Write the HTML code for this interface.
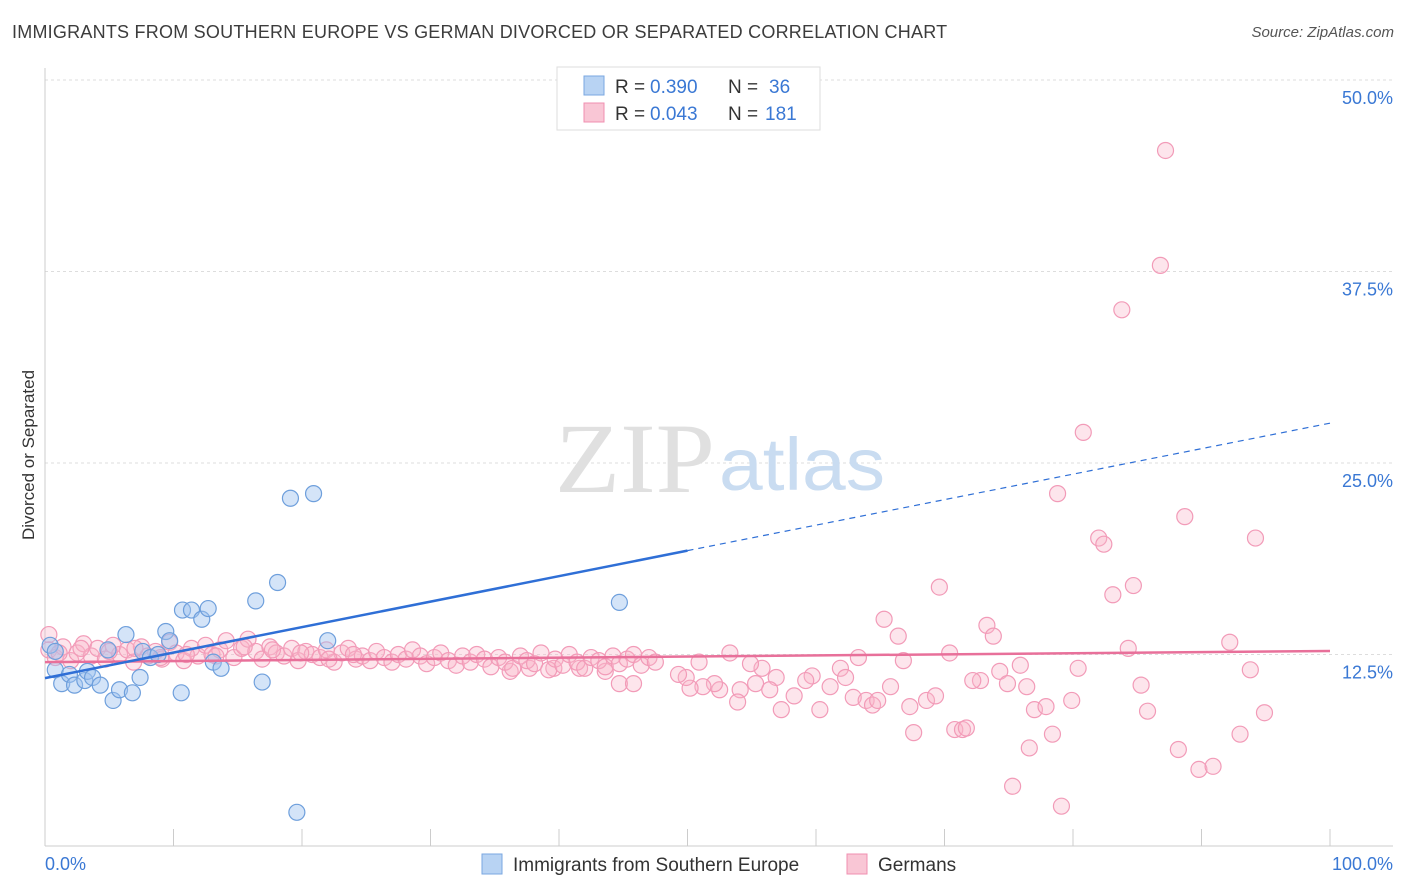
<!DOCTYPE html>
<html><head><meta charset="utf-8">
<style>
body{margin:0;background:#fff;font-family:"Liberation Sans",sans-serif;}
#wrap{position:relative;width:1406px;height:892px;overflow:hidden;}
.title{position:absolute;left:12px;top:22px;font-size:18px;color:#3c3c3c;letter-spacing:0.23px;}
.source{position:absolute;right:12px;top:24px;font-size:15px;color:#555;font-style:italic;}
</style></head><body>
<div id="wrap">
<div class="title">IMMIGRANTS FROM SOUTHERN EUROPE VS GERMAN DIVORCED OR SEPARATED CORRELATION CHART</div>
<div class="source">Source: ZipAtlas.com</div>
<svg id="svg" width="1406" height="892" style="position:absolute;left:0;top:0">
<text x="555" y="492" font-size="100" font-family="Liberation Serif,serif" fill="#e0e0e0" textLength="160" lengthAdjust="spacingAndGlyphs">ZIP</text>
<text x="719" y="490" font-size="74" fill="#c9dcf1" textLength="166" lengthAdjust="spacingAndGlyphs">atlas</text>
<text transform="translate(34,455) rotate(-90)" font-size="17" fill="#333" text-anchor="middle">Divorced or Separated</text>
<text x="45" y="870" font-size="18" fill="#3a78d4">0.0%</text>
<text x="1393" y="870" font-size="18" fill="#3a78d4" text-anchor="end">100.0%</text>
<g>
<rect x="557" y="67" width="263" height="63" fill="#fff" stroke="#ddd"/>
<rect x="584" y="76" width="20" height="19" fill="#b8d3f3" stroke="#7aa7e0"/>
<rect x="584" y="103" width="20" height="19" fill="#f9c6d5" stroke="#f08fb0"/>
<text x="615" y="93" font-size="19" fill="#333">R =</text>
<text x="650" y="93" font-size="19" fill="#3a78d4">0.390</text>
<text x="728" y="93" font-size="19" fill="#333">N =</text>
<text x="769" y="93" font-size="19" fill="#3a78d4">36</text>
<text x="615" y="120" font-size="19" fill="#333">R =</text>
<text x="650" y="120" font-size="19" fill="#3a78d4">0.043</text>
<text x="728" y="120" font-size="19" fill="#333">N =</text>
<text x="765" y="120" font-size="19" fill="#3a78d4">181</text>
</g>
<g>
<rect x="482" y="854" width="20" height="20" fill="#b8d3f3" stroke="#7aa7e0"/>
<text x="513" y="871" font-size="19" fill="#333">Immigrants from Southern Europe</text>
<rect x="847" y="854" width="20" height="20" fill="#f9c6d5" stroke="#f08fb0"/>
<text x="878" y="871" font-size="19" fill="#333">Germans</text>
</g>
</svg>
</div>
<script>
const yTicks=[12.5,25,37.5,50];
const yTickLabels=["12.5%","25.0%","37.5%","50.0%"];
const xTicks=[0,10,20,30,40,50,60,70,80,90,100];
const blueX=[0.4,0.8,1.3,1.9,2.3,3.1,3.3,3.7,4.3,4.9,5.3,5.8,6.3,6.8,7.4,7.6,8.2,8.8,9.4,9.7,10.6,10.7,11.4,12.2,12.7,13.1,13.7,16.4,16.9,18.1,19.1,20.9,19.6,22.0,44.7,0.8];
const blueY=[13.1,11.5,10.6,11.2,10.5,10.8,11.4,11.0,10.5,12.8,9.5,10.2,13.8,10.0,11.0,12.7,12.3,12.5,14.0,13.4,10.0,15.4,15.4,14.8,15.5,12.0,11.6,16.0,10.7,17.2,22.7,23.0,2.2,13.4,15.9,12.7];
const pinkX=[87.2,86.8,83.8,80.8,78.8,88.7,94.2,82.0,82.4,84.7,83.1,69.6,65.3,66.4,73.3,73.8,92.2,84.3,70.4,66.8,63.3,75.9,80.4,93.8,74.3,72.8,72.2,74.9,76.4,85.3,65.8,61.9,62.3,61.1,59.7,59.2,58.3,56.9,55.8,54.9,54.1,55.3,56.4,57.3,53.9,52.5,52.1,51.2,50.2,49.9,49.3,50.9,53.3,62.9,60.3,63.9,64.4,64.8,67.3,67.6,68.6,69.3,70.8,71.4,71.7,77.0,77.9,79.9,78.4,76.6,75.3,79.1,85.8,88.2,89.8,90.9,93.0,94.9,44.7,45.8,43.6,41.6,39.6,37.7,36.2,0.3,
0.3,0.8,1.4,2.0,2.5,3.0,3.6,4.1,4.7,5.3,5.8,6.4,6.9,7.5,8.0,8.6,9.1,9.7,10.2,10.8,11.4,11.9,12.5,13.0,13.6,14.1,14.7,15.3,15.8,16.4,16.9,17.5,18.0,18.6,19.2,19.7,20.3,20.8,21.4,21.9,22.5,23.1,23.6,24.2,24.7,25.3,25.8,26.4,27.0,27.5,28.1,28.6,29.2,29.7,30.3,30.8,31.4,32.0,32.5,33.1,33.6,34.2,34.7,35.3,35.8,36.4,37.0,37.5,38.1,38.6,39.2,39.7,40.3,40.8,41.4,42.0,42.5,43.1,43.6,44.2,44.7,45.3,45.8,46.4,47.0,47.5,
1.1,2.8,5.0,7.0,9.0,11.0,13.3,15.5,17.7,19.9,22.1,24.0];
const pinkY=[45.4,37.9,35.0,27.0,23.0,21.5,20.1,20.1,19.7,17.0,16.4,16.9,14.8,13.7,14.4,13.7,13.3,12.9,12.6,12.1,12.3,11.8,11.6,11.5,11.4,10.8,10.8,10.6,10.4,10.5,10.4,11.6,11.0,10.4,11.1,10.8,9.8,11.0,11.6,11.9,10.2,10.6,10.2,8.9,9.4,10.2,10.6,10.4,10.3,11.0,11.2,12.0,12.6,9.7,8.9,9.5,9.2,9.5,9.1,7.4,9.5,9.8,7.6,7.6,7.7,8.9,9.1,9.5,7.3,6.4,3.9,2.6,8.8,6.3,5.0,5.2,7.3,8.7,10.6,10.6,11.4,11.6,11.6,11.6,11.4,13.8,
12.8,12.3,13.0,12.1,12.6,13.2,12.4,12.9,12.2,13.1,12.5,12.8,12.0,13.0,12.4,12.7,12.2,13.3,12.6,12.1,12.9,12.4,13.1,12.5,12.8,13.4,12.3,12.9,13.5,12.7,12.2,13.0,12.6,12.4,12.9,12.1,12.7,12.5,12.3,12.8,12.0,12.6,12.9,12.2,12.4,12.1,12.7,12.3,12.0,12.5,12.2,12.8,12.4,11.9,12.3,12.6,12.1,11.8,12.4,12.0,12.5,12.2,11.7,12.3,12.0,11.6,12.4,12.1,11.9,12.6,11.5,12.2,11.8,12.5,12.0,11.6,12.3,12.1,11.7,12.4,11.9,12.2,12.5,11.8,12.3,12.0,
12.6,12.9,12.7,12.9,12.3,12.5,12.4,13.0,12.8,12.6,12.2,12.5];
const blueTrend=[10.96,27.6];
const pinkTrend=[12.0,12.73];
const NS="http://www.w3.org/2000/svg";
const svg=document.getElementById('svg');
const X0=45,X1=1330,Y0=846,PPY=15.32;
function sx(v){return X0+(X1-X0)*v/100;}
function sy(v){return Y0-v*PPY;}
function mk(t,a){const e=document.createElementNS(NS,t);for(const k in a)e.setAttribute(k,a[k]);return e;}
const grid=mk('g',{});


svg.insertBefore(grid,svg.firstChild);
yTicks.forEach((t,i)=>{
 const l=mk('line',{x1:X0,x2:1393,y1:sy(t),y2:sy(t),stroke:'#ddd','stroke-dasharray':'3,3'});
 
 
 grid.appendChild(l);
 const tx=mk('text',{x:1393,y:sy(t)+24,'font-size':18,fill:'#3a78d4','text-anchor':'end'});
 tx.textContent=yTickLabels[i];
 
 
 svg.appendChild(tx);
});
const ax=mk('line',{x1:X0,x2:X0,y1:68,y2:Y0,stroke:'#ccc'});


svg.appendChild(ax);
const bx=mk('line',{x1:X0,x2:1393,y1:Y0,y2:Y0,stroke:'#ccc'});


svg.appendChild(bx);
xTicks.forEach(t=>{
 const l=mk('line',{x1:sx(t),x2:sx(t),y1:Y0,y2:Y0-17,stroke:'#ccc'});
 
 
 svg.appendChild(l);
});
function dots(xs,ys,fill,stroke,name){
 const n=Math.min(xs.length,ys.length);
 for(let i=0;i<n;i++){
  const c=mk('circle',{cx:sx(xs[i]),cy:sy(ys[i]),r:8,fill:fill,stroke:stroke,'stroke-width':1.2});
  
  
  svg.appendChild(c);
 }
}
dots(pinkX,pinkY,'rgba(248,180,200,0.35)','#f29bb8','german-point');
dots(blueX,blueY,'rgba(160,195,240,0.45)','#6e9fdc','southern-europe-point');
function yAt(tr,x){return tr[0]+(tr[1]-tr[0])*x/100;}
const pl=mk('line',{x1:sx(0),y1:sy(pinkTrend[0]),x2:sx(100),y2:sy(pinkTrend[1]),stroke:'#e8709a','stroke-width':2.5});


svg.appendChild(pl);
const bl=mk('line',{x1:sx(0),y1:sy(yAt(blueTrend,0)),x2:sx(50),y2:sy(yAt(blueTrend,50)),stroke:'#2f6fd6','stroke-width':2.5});


svg.appendChild(bl);
const bd=mk('line',{x1:sx(50),y1:sy(yAt(blueTrend,50)),x2:sx(100),y2:sy(yAt(blueTrend,100)),stroke:'#2f6fd6','stroke-width':1.2,'stroke-dasharray':'6,5'});


svg.appendChild(bd);
</script>
</body></html>
